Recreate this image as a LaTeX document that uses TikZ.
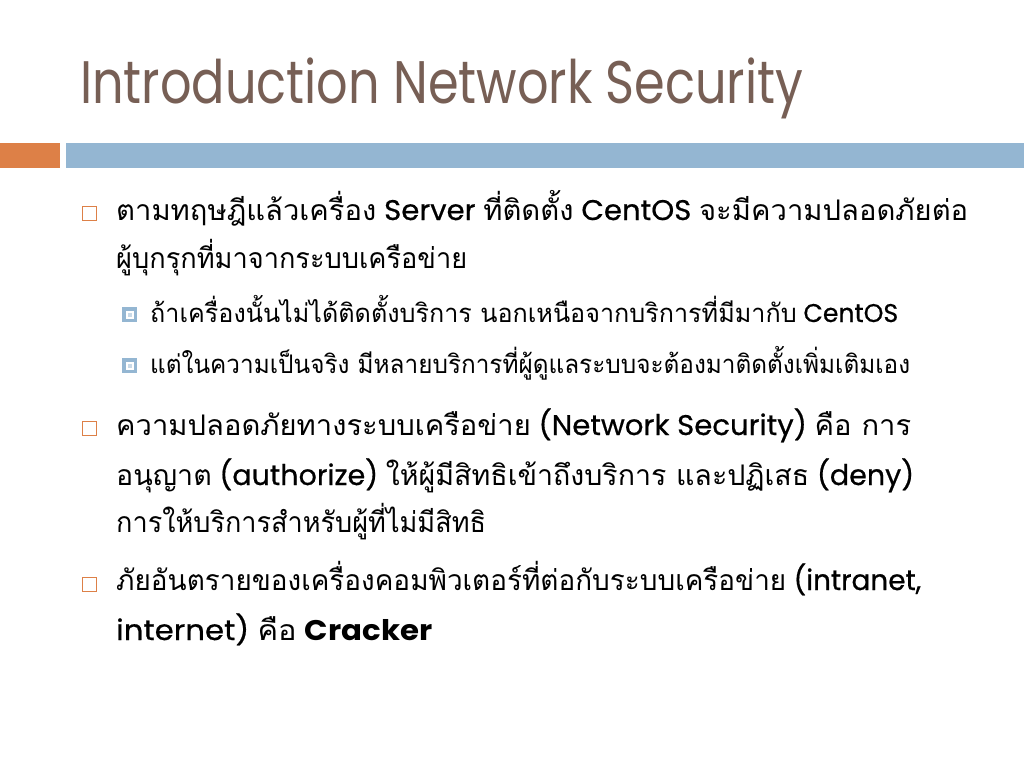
\documentclass[tikz,border=0pt]{standalone}
\usepackage{fontspec}
\setmainfont{Poppins}
\newfontfamily\thai[Script=Thai]{Loma}
\newfontfamily\latm[FakeBold=0.6]{Poppins}
\usepackage{graphicx}
\definecolor{titlec}{HTML}{775F55}
\definecolor{orangec}{HTML}{DD8047}
\definecolor{bluec}{HTML}{94B6D2}
\definecolor{bluelt}{HTML}{C9DAE8}
\newsavebox\fitbox
\newcommand\fitto[2]{\sbox\fitbox{#2}\pgfmathsetmacro\fitr{#1/\wd\fitbox}\scalebox{\fitr}[1]{\usebox\fitbox}}
\newcommand\lone{\fontsize{28.4}{34}\selectfont}
\newcommand\ltwo{\fontsize{25.6}{31}\selectfont}
\newcommand\lat[1]{{\latm #1}}
\tikzset{
  txt/.style={anchor=base west, inner sep=0pt, text=black},
  bulone/.style={draw=orangec, line width=1.3pt, fill=white},
}
\begin{document}
\begin{tikzpicture}[x=1pt,y=-1pt]
\useasboundingbox (0,0) rectangle (1024,768);
\fill[white] (0,0) rectangle (1024,768);
% title
\node[anchor=base west, inner sep=0pt, text=titlec] (title) at (80,103)
  {\fontsize{60}{70}\selectfont\fitto{723pt}{Introduction Network Security}};
% bars
\fill[orangec] (0,143) rectangle (60,168);
\fill[bluec] (66,143) rectangle (1024,168);
% level-1 bullets
\draw[bulone] (82.5,206.5) rectangle (96.5,220.5);
\draw[bulone] (82.5,421.5) rectangle (96.5,435.5);
\draw[bulone] (82.5,577.5) rectangle (96.5,591.5);
% level-2 bullets
\foreach \yy in {307,358}{
  \fill[bluec] (122,\yy) rectangle (137,\yy+15);
  \fill[white] (125.5,\yy+3.5) rectangle (133.5,\yy+11.5);
  \fill[bluelt] (127.5,\yy+5.5) rectangle (131.5,\yy+9.5);
}
% bullet 1
\node[txt] (l1a) at (116,220) {\lone\fitto{852pt}{{\thai ตามทฤษฎีแล้วเครื่อง} \lat{Server} {\thai ที่ติดตั้ง} \lat{CentOS} {\thai จะมีความปลอดภัยต่อ}}};
\node[txt] (l1b) at (116,268) {\lone\fitto{351pt}{\thai ผู้บุกรุกที่มาจากระบบเครือข่าย}};
\node[txt] (s1) at (150,322) {\ltwo\fitto{748pt}{{\thai ถ้าเครื่องนั้นไม่ได้ติดตั้งบริการ นอกเหนือจากบริการที่มีมากับ} \lat{CentOS}}};
\node[txt] (s2) at (150,373) {\ltwo\fitto{760pt}{\thai แต่ในความเป็นจริง มีหลายบริการที่ผู้ดูแลระบบจะต้องมาติดตั้งเพิ่มเติมเอง}};
% bullet 2
\node[txt] (b2a) at (116,435) {\lone\fitto{795pt}{{\thai ความปลอดภัยทางระบบเครือข่าย} \lat{(Network Security)} {\thai คือ การ}}};
\node[txt] (b2b) at (116,485) {\lone\fitto{798pt}{{\thai อนุญาต} \lat{(authorize)} {\thai ให้ผู้มีสิทธิเข้าถึงบริการ และปฏิเสธ} \lat{(deny)}}};
\node[txt] (b2c) at (116,532) {\lone\fitto{370pt}{\thai การให้บริการสำหรับผู้ที่ไม่มีสิทธิ}};
% bullet 3
\node[txt] (b3a) at (116,590) {\lone\fitto{805pt}{{\thai ภัยอันตรายของเครื่องคอมพิวเตอร์ที่ต่อกับระบบเครือข่าย} \lat{(intranet,}}};
\node[txt] (b3b) at (116,640) {\lone\fitto{316pt}{\lat{internet)} {\thai คือ} {\bfseries Cracker}}};
\end{tikzpicture}
\end{document}
